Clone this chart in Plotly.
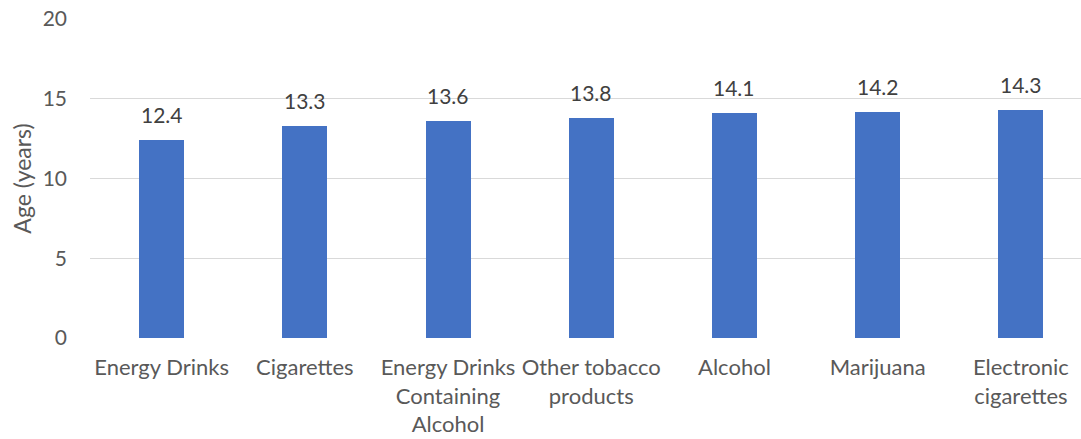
import plotly.graph_objects as go

categories = [
    "Energy Drinks",
    "Cigarettes",
    "Energy Drinks<br>Containing<br>Alcohol",
    "Other tobacco<br>products",
    "Alcohol",
    "Marijuana",
    "Electronic<br>cigarettes",
]
ages = [12.4, 13.3, 13.6, 13.8, 14.1, 14.2, 14.3]
y_ticks = [0, 5, 10, 15, 20]

FONT = "Lato"
BAR_COLOR = "#4472C4"

fig = go.Figure()
fig.add_trace(go.Bar(
    x=list(range(len(categories))),
    y=ages,
    width=0.314,
    marker=dict(color=BAR_COLOR, line=dict(width=0)),
    hoverinfo="skip",
))

# value labels above each bar
for i, v in enumerate(ages):
    fig.add_annotation(
        x=i, y=v, text=f"{v:.1f}", showarrow=False,
        xanchor="center", yanchor="bottom", yshift=11,
        font=dict(family=FONT, size=21, color="#404040"),
    )

fig.update_layout(
    width=1081, height=439,
    margin=dict(l=90, r=0, t=19, b=101),
    plot_bgcolor="white", paper_bgcolor="white",
    showlegend=False,
    bargap=0,
    xaxis=dict(
        range=[-0.5, 6.42],
        tickmode="array",
        tickvals=list(range(len(categories))),
        ticktext=categories,
        tickfont=dict(family=FONT, size=22, color="#595959"),
        showgrid=False, zeroline=False, showline=False,
        ticks="", tickangle=0,
        ticklabelstandoff=14,
    ),
    yaxis=dict(
        range=[0, 20],
        tickmode="array", tickvals=y_ticks,
        tickfont=dict(family=FONT, size=21, color="#595959"),
        showgrid=True, gridcolor="#D9D9D9", gridwidth=1.3,
        zeroline=False, showline=False, ticks="",
        ticklabelstandoff=22,
        title=dict(text="Age (years)", font=dict(family=FONT, size=23, color="#595959"),
                   standoff=4),
    ),
)

fig.write_html("out.html")
